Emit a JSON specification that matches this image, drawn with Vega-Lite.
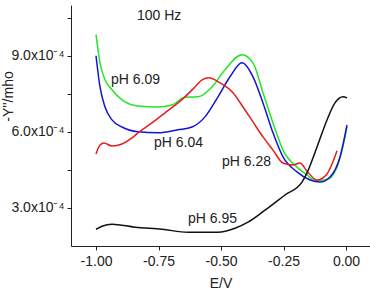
{
  "$schema": "https://vega.github.io/schema/vega-lite/v6.json",
  "width": 299,
  "height": 241,
  "autosize": "none",
  "padding": {"left": 71, "top": 5, "right": 0, "bottom": 44},
  "config": {"view": {"stroke": null}, "font": "Liberation Sans"},
  "datasets": {
    "curves": [
      {"s": "pH 6.09", "E": -1.0, "Y": 9.83},
      {"s": "pH 6.09", "E": -0.984, "Y": 8.72},
      {"s": "pH 6.09", "E": -0.964, "Y": 8.05},
      {"s": "pH 6.09", "E": -0.936, "Y": 7.66},
      {"s": "pH 6.09", "E": -0.884, "Y": 7.18},
      {"s": "pH 6.09", "E": -0.832, "Y": 7.02},
      {"s": "pH 6.09", "E": -0.752, "Y": 6.98},
      {"s": "pH 6.09", "E": -0.696, "Y": 7.06},
      {"s": "pH 6.09", "E": -0.644, "Y": 7.36},
      {"s": "pH 6.09", "E": -0.592, "Y": 7.38},
      {"s": "pH 6.09", "E": -0.536, "Y": 7.77},
      {"s": "pH 6.09", "E": -0.484, "Y": 8.45},
      {"s": "pH 6.09", "E": -0.416, "Y": 9.04},
      {"s": "pH 6.09", "E": -0.372, "Y": 8.72},
      {"s": "pH 6.09", "E": -0.332, "Y": 7.54},
      {"s": "pH 6.09", "E": -0.292, "Y": 6.35},
      {"s": "pH 6.09", "E": -0.252, "Y": 5.28},
      {"s": "pH 6.09", "E": -0.196, "Y": 4.61},
      {"s": "pH 6.09", "E": -0.156, "Y": 4.3},
      {"s": "pH 6.09", "E": -0.124, "Y": 4.08},
      {"s": "pH 6.09", "E": -0.076, "Y": 4.12},
      {"s": "pH 6.09", "E": -0.036, "Y": 4.61},
      {"s": "pH 6.09", "E": -0.004, "Y": 5.8},
      {"s": "pH 6.09", "E": 0.004, "Y": 6.2},
      {"s": "pH 6.04", "E": -1.0, "Y": 9.0},
      {"s": "pH 6.04", "E": -0.984, "Y": 7.77},
      {"s": "pH 6.04", "E": -0.964, "Y": 6.98},
      {"s": "pH 6.04", "E": -0.936, "Y": 6.47},
      {"s": "pH 6.04", "E": -0.896, "Y": 6.19},
      {"s": "pH 6.04", "E": -0.832, "Y": 6.0},
      {"s": "pH 6.04", "E": -0.752, "Y": 5.96},
      {"s": "pH 6.04", "E": -0.672, "Y": 6.08},
      {"s": "pH 6.04", "E": -0.616, "Y": 6.19},
      {"s": "pH 6.04", "E": -0.564, "Y": 6.59},
      {"s": "pH 6.04", "E": -0.512, "Y": 7.38},
      {"s": "pH 6.04", "E": -0.464, "Y": 8.17},
      {"s": "pH 6.04", "E": -0.416, "Y": 8.72},
      {"s": "pH 6.04", "E": -0.372, "Y": 8.17},
      {"s": "pH 6.04", "E": -0.332, "Y": 7.14},
      {"s": "pH 6.04", "E": -0.292, "Y": 5.96},
      {"s": "pH 6.04", "E": -0.252, "Y": 5.01},
      {"s": "pH 6.04", "E": -0.196, "Y": 4.42},
      {"s": "pH 6.04", "E": -0.144, "Y": 4.1},
      {"s": "pH 6.04", "E": -0.104, "Y": 4.02},
      {"s": "pH 6.04", "E": -0.064, "Y": 4.22},
      {"s": "pH 6.04", "E": -0.024, "Y": 5.01},
      {"s": "pH 6.04", "E": 0.004, "Y": 6.27},
      {"s": "pH 6.28", "E": -1.0, "Y": 5.13},
      {"s": "pH 6.28", "E": -0.984, "Y": 5.48},
      {"s": "pH 6.28", "E": -0.968, "Y": 5.56},
      {"s": "pH 6.28", "E": -0.936, "Y": 5.44},
      {"s": "pH 6.28", "E": -0.896, "Y": 5.52},
      {"s": "pH 6.28", "E": -0.856, "Y": 5.76},
      {"s": "pH 6.28", "E": -0.832, "Y": 5.96},
      {"s": "pH 6.28", "E": -0.776, "Y": 6.35},
      {"s": "pH 6.28", "E": -0.724, "Y": 6.75},
      {"s": "pH 6.28", "E": -0.672, "Y": 7.14},
      {"s": "pH 6.28", "E": -0.644, "Y": 7.38},
      {"s": "pH 6.28", "E": -0.604, "Y": 7.77},
      {"s": "pH 6.28", "E": -0.576, "Y": 8.05},
      {"s": "pH 6.28", "E": -0.548, "Y": 8.13},
      {"s": "pH 6.28", "E": -0.504, "Y": 7.93},
      {"s": "pH 6.28", "E": -0.452, "Y": 7.54},
      {"s": "pH 6.28", "E": -0.412, "Y": 6.98},
      {"s": "pH 6.28", "E": -0.372, "Y": 6.39},
      {"s": "pH 6.28", "E": -0.332, "Y": 5.8},
      {"s": "pH 6.28", "E": -0.292, "Y": 5.28},
      {"s": "pH 6.28", "E": -0.252, "Y": 4.77},
      {"s": "pH 6.28", "E": -0.212, "Y": 4.69},
      {"s": "pH 6.28", "E": -0.184, "Y": 4.77},
      {"s": "pH 6.28", "E": -0.156, "Y": 4.45},
      {"s": "pH 6.28", "E": -0.116, "Y": 4.1},
      {"s": "pH 6.28", "E": -0.076, "Y": 4.34},
      {"s": "pH 6.28", "E": -0.036, "Y": 5.25},
      {"s": "pH 6.95", "E": -1.0, "Y": 2.16},
      {"s": "pH 6.95", "E": -0.976, "Y": 2.28},
      {"s": "pH 6.95", "E": -0.936, "Y": 2.36},
      {"s": "pH 6.95", "E": -0.844, "Y": 2.24},
      {"s": "pH 6.95", "E": -0.736, "Y": 2.16},
      {"s": "pH 6.95", "E": -0.632, "Y": 2.04},
      {"s": "pH 6.95", "E": -0.512, "Y": 2.04},
      {"s": "pH 6.95", "E": -0.444, "Y": 2.2},
      {"s": "pH 6.95", "E": -0.392, "Y": 2.44},
      {"s": "pH 6.95", "E": -0.324, "Y": 2.91},
      {"s": "pH 6.95", "E": -0.244, "Y": 3.51},
      {"s": "pH 6.95", "E": -0.176, "Y": 4.02},
      {"s": "pH 6.95", "E": -0.156, "Y": 4.38},
      {"s": "pH 6.95", "E": -0.116, "Y": 5.4},
      {"s": "pH 6.95", "E": -0.076, "Y": 6.47},
      {"s": "pH 6.95", "E": -0.044, "Y": 7.14},
      {"s": "pH 6.95", "E": -0.012, "Y": 7.38},
      {"s": "pH 6.95", "E": 0.004, "Y": 7.34}
    ],
    "labels": [
      {"t": "100 Hz", "E": -0.836, "Y": 10.58},
      {"t": "pH 6.09", "E": -0.94, "Y": 8.05},
      {"t": "pH 6.04", "E": -0.768, "Y": 5.56},
      {"t": "pH 6.28", "E": -0.496, "Y": 4.81},
      {"t": "pH 6.95", "E": -0.632, "Y": 2.56}
    ]
  },
  "layer": [
    {
      "data": {"name": "curves"},
      "mark": {"type": "line", "interpolate": "monotone", "strokeWidth": 1.5},
      "encoding": {
        "x": {
          "field": "E", "type": "quantitative",
          "scale": {"domain": [-1.1, 0.096], "nice": false, "zero": false},
          "axis": {
            "title": "E/V", "grid": false, "domainColor": "#222", "tickColor": "#222",
            "values": [-1.0, -0.875, -0.75, -0.625, -0.5, -0.375, -0.25, -0.125, 0.0],
            "labelExpr": "abs(datum.value*4 - round(datum.value*4)) < 0.01 ? ((datum.value < -0.001 ? '-' : '') + format(abs(datum.value), '.2f')) : ''",
            "tickSize": 4, "labelPadding": 4, "labelFontSize": 14, "labelColor": "#222",
            "labelFont": "Liberation Sans", "titleFont": "Liberation Sans", "titleFontSize": 14,
            "titleFontWeight": "normal", "titleColor": "#222", "titleY": 41, "titleBaseline": "alphabetic"
          }
        },
        "y": {
          "field": "Y", "type": "quantitative",
          "scale": {"domain": [1.5, 11.0], "nice": false, "zero": false},
          "axis": {
            "title": "-Y''/mho", "grid": false, "domainColor": "#222", "tickColor": "#222",
            "values": [3, 4.5, 6, 7.5, 9, 10.5],
            "labelExpr": "datum.value % 3 == 0 ? format(datum.value, '.1f') + 'x10⁻⁴' : ''",
            "tickSize": 4, "labelPadding": 3, "labelFontSize": 14, "labelColor": "#222",
            "labelFont": "Liberation Sans", "titleFont": "Liberation Sans", "titleFontSize": 14,
            "titleFontWeight": "normal", "titleColor": "#222",
            "titleX": -59, "titleY": 91, "titleAngle": -90, "titleBaseline": "alphabetic", "titleAlign": "center"
          }
        },
        "color": {
          "field": "s", "type": "nominal",
          "scale": {"domain": ["pH 6.09", "pH 6.04", "pH 6.28", "pH 6.95"], "range": ["#22e622", "#1414d2", "#e81c1c", "#111111"]},
          "legend": null
        }
      }
    },
    {
      "data": {"name": "labels"},
      "mark": {"type": "text", "align": "left", "baseline": "middle", "fontSize": 14, "font": "Liberation Sans", "color": "#222"},
      "encoding": {
        "x": {"field": "E", "type": "quantitative"},
        "y": {"field": "Y", "type": "quantitative"},
        "text": {"field": "t"}
      }
    }
  ]
}
